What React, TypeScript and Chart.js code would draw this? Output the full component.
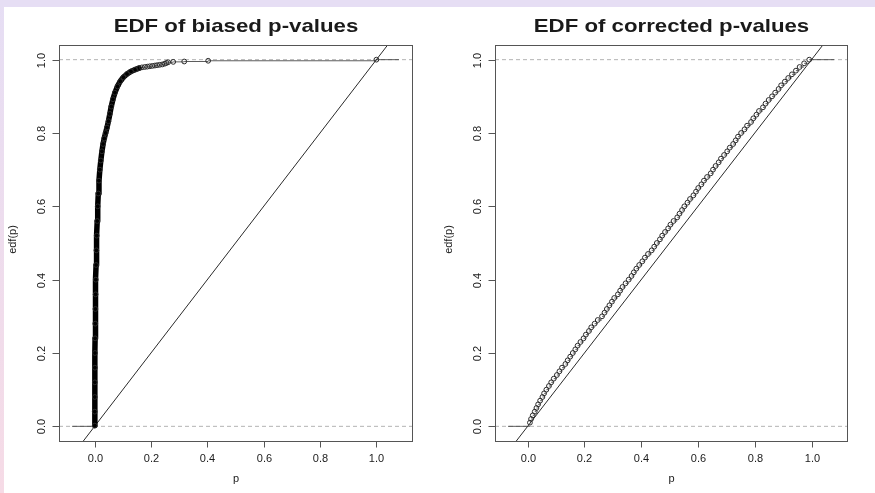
import React, { useEffect, useRef } from "react";
import { Chart, registerables } from "chart.js";

Chart.register(...registerables);

// ---------- data ----------
// Biased p-values: dense part of the EDF (drawn as a solid ribbon of points)
const biasedDenseP = [
  0.0005, 0.0005, 0.0006, 0.0008, 0.001, 0.0013, 0.0017, 0.0022, 0.0028, 0.0035,
  0.0043, 0.0052, 0.0063, 0.0076, 0.0092, 0.011, 0.013, 0.0155, 0.0185, 0.022,
  0.026, 0.03, 0.034, 0.039, 0.044, 0.049, 0.054, 0.059, 0.065, 0.072,
  0.081, 0.091, 0.102, 0.115, 0.129, 0.144, 0.158,
];
const biasedDenseEdf = [
  0.002, 0.04, 0.08, 0.12, 0.16, 0.2, 0.24, 0.28, 0.32, 0.36,
  0.4, 0.44, 0.48, 0.52, 0.56, 0.6, 0.635, 0.67, 0.7, 0.725,
  0.75, 0.77, 0.785, 0.8, 0.815, 0.832, 0.852, 0.872, 0.892, 0.91,
  0.927, 0.941, 0.952, 0.961, 0.968, 0.973, 0.977,
];
// Biased p-values: sparse upper tail
const biasedTailP = [
  0.168, 0.178, 0.187, 0.196, 0.205, 0.214, 0.222, 0.231, 0.24, 0.249,
  0.255, 0.261, 0.279, 0.318, 0.403, 1.0,
];
const biasedTailEdf = [
  0.979, 0.98, 0.981, 0.982, 0.983, 0.984, 0.985, 0.986, 0.987, 0.989,
  0.991, 0.993, 0.994, 0.995, 0.997, 1.0,
];

// Corrected p-values
const correctedP = [
  0.008, 0.012, 0.018, 0.025, 0.031, 0.037, 0.044, 0.052, 0.058, 0.066,
  0.075, 0.083, 0.092, 0.103, 0.112, 0.121, 0.133, 0.141, 0.15, 0.159,
  0.168, 0.176, 0.186, 0.197, 0.205, 0.216, 0.224, 0.236, 0.247, 0.262,
  0.271, 0.279, 0.288, 0.297, 0.305, 0.318, 0.326, 0.334, 0.345, 0.356,
  0.366, 0.374, 0.383, 0.393, 0.404, 0.413, 0.424, 0.437, 0.446, 0.455,
  0.466, 0.474, 0.484, 0.495, 0.503, 0.514, 0.527, 0.535, 0.544, 0.552,
  0.563, 0.572, 0.584, 0.593, 0.601, 0.612, 0.621, 0.632, 0.645, 0.653,
  0.662, 0.673, 0.681, 0.692, 0.703, 0.712, 0.724, 0.733, 0.741, 0.752,
  0.764, 0.773, 0.787, 0.795, 0.806, 0.815, 0.829, 0.838, 0.849, 0.861,
  0.872, 0.884, 0.893, 0.906, 0.918, 0.931, 0.945, 0.958, 0.974, 0.992,
];
const correctedEdf = [
  0.01, 0.02, 0.03, 0.04, 0.05, 0.06, 0.07, 0.08, 0.09, 0.1,
  0.11, 0.12, 0.13, 0.14, 0.15, 0.16, 0.17, 0.18, 0.19, 0.2,
  0.21, 0.22, 0.23, 0.24, 0.25, 0.26, 0.27, 0.28, 0.29, 0.3,
  0.31, 0.32, 0.33, 0.34, 0.35, 0.36, 0.37, 0.38, 0.39, 0.4,
  0.41, 0.42, 0.43, 0.44, 0.45, 0.46, 0.47, 0.48, 0.49, 0.5,
  0.51, 0.52, 0.53, 0.54, 0.55, 0.56, 0.57, 0.58, 0.59, 0.6,
  0.61, 0.62, 0.63, 0.64, 0.65, 0.66, 0.67, 0.68, 0.69, 0.7,
  0.71, 0.72, 0.73, 0.74, 0.75, 0.76, 0.77, 0.78, 0.79, 0.8,
  0.81, 0.82, 0.83, 0.84, 0.85, 0.86, 0.87, 0.88, 0.89, 0.9,
  0.91, 0.92, 0.93, 0.94, 0.95, 0.96, 0.97, 0.98, 0.99, 1.0,
];

const xTickValues = [0, 0.2, 0.4, 0.6, 0.8, 1.0];
const xTickLabels = ["0.0", "0.2", "0.4", "0.6", "0.8", "1.0"];
const yTickValues = [0, 0.2, 0.4, 0.6, 0.8, 1.0];
const yTickLabels = ["0.0", "0.2", "0.4", "0.6", "0.8", "1.0"];
const refLevels = [0, 1];

const biasedTitle = "EDF of biased p-values";
const correctedTitle = "EDF of corrected p-values";
const xTitle = "p";
const yTitle = "edf(p)";

// axis ranges (R usr coordinates) and ecdf step extents (R xlim)
const biasedXRange = [-0.1264, 1.1264];
const correctedXRange = [-0.115, 1.125];
const yRange = [-0.04, 1.04];
const biasedStepLimits = [-0.08, 1.08];
const correctedStepLimits = [-0.0692, 1.0792];

// ---------- styling ----------
const FONT = '"Liberation Sans", Arial, Helvetica, sans-serif';
const TEXT = "#1a1a1a";
const AXIS = "#555555";
const TITLE_STRETCH = 1.17;

type Pt = { x: number; y: number };
const GAP: Pt = { x: NaN, y: NaN };

function stepSegments(px: number[], py: number[], lim: number[]): Pt[] {
  const out: Pt[] = [];
  out.push({ x: lim[0], y: 0 }, { x: px[0], y: 0 }, { ...GAP });
  for (let i = 0; i < px.length - 1; i++) {
    out.push({ x: px[i], y: py[i] }, { x: px[i + 1], y: py[i] }, { ...GAP });
  }
  out.push({ x: px[px.length - 1], y: 1 }, { x: lim[1], y: 1 });
  return out;
}

function makeFramePlugin(title: string) {
  return {
    id: "rframe",
    afterDraw(chart: any) {
      const { ctx, chartArea: a, scales } = chart;
      const x = scales.x;
      const y = scales.y;
      ctx.save();
      ctx.strokeStyle = AXIS;
      ctx.lineWidth = 1;
      const L = Math.round(a.left) + 0.5;
      const T = Math.round(a.top) + 0.5;
      const R = Math.round(a.right) + 0.5;
      const B = Math.round(a.bottom) + 0.5;
      ctx.strokeRect(L, T, R - L, B - T);

      ctx.fillStyle = TEXT;
      ctx.font = `11px ${FONT}`;
      ctx.textAlign = "center";
      ctx.textBaseline = "alphabetic";
      xTickValues.forEach((v, i) => {
        const px = Math.round(x.getPixelForValue(v)) + 0.5;
        ctx.beginPath();
        ctx.moveTo(px, B);
        ctx.lineTo(px, B + 6);
        ctx.stroke();
        ctx.fillText(xTickLabels[i], px, B + 20);
      });
      yTickValues.forEach((v, i) => {
        const py = Math.round(y.getPixelForValue(v)) + 0.5;
        ctx.beginPath();
        ctx.moveTo(L, py);
        ctx.lineTo(L - 7, py);
        ctx.stroke();
        ctx.save();
        ctx.translate(L - 15, py);
        ctx.rotate(-Math.PI / 2);
        ctx.fillText(yTickLabels[i], 0, 0);
        ctx.restore();
      });

      // axis titles
      ctx.font = `11px ${FONT}`;
      ctx.fillText(xTitle, (L + R) / 2, B + 40);
      ctx.save();
      ctx.translate(L - 44, (T + B) / 2 - 4);
      ctx.rotate(-Math.PI / 2);
      ctx.fillText(yTitle, 0, 0);
      ctx.restore();

      // main title
      ctx.save();
      ctx.font = `bold 19px ${FONT}`;
      ctx.translate((L + R) / 2, 32);
      ctx.scale(TITLE_STRETCH, 1);
      ctx.fillText(title, 0, 0);
      ctx.restore();
      ctx.restore();
    },
  };
}

type PanelProps = {
  left: number;
  width: number;
  padLeft: number;
  padRight: number;
  xRange: number[];
  stepLimits: number[];
  pts: { p: number[]; edf: number[] };
  dense?: { p: number[]; edf: number[] };
  title: string;
};

function Panel(props: PanelProps) {
  const ref = useRef<HTMLCanvasElement | null>(null);
  useEffect(() => {
    if (!ref.current) return;
    const { pts, dense, xRange, stepLimits } = props;
    const pointData = pts.p.map((v, i) => ({ x: v, y: pts.edf[i] }));
    const datasets: any[] = [
      {
        label: "points",
        data: pointData,
        showLine: false,
        pointStyle: "circle",
        pointRadius: 2.4,
        pointBorderWidth: 1,
        pointBorderColor: "#2b2b2b",
        pointBackgroundColor: "rgba(0,0,0,0)",
      },
    ];
    if (dense) {
      datasets.push({
        label: "dense",
        data: dense.p.map((v, i) => ({ x: v, y: dense.edf[i] })),
        showLine: true,
        borderColor: "#000000",
        borderWidth: 5.5,
        borderCapStyle: "round",
        borderJoinStyle: "round",
        pointRadius: 0,
        tension: 0,
      });
    }
    datasets.push({
      label: "steps",
      data: stepSegments(pts.p, pts.edf, stepLimits),
      showLine: true,
      spanGaps: false,
      borderColor: "#333333",
      borderWidth: 0.8,
      pointRadius: 0,
    });
    datasets.push({
      label: "diagonal",
      data: [
        { x: xRange[0] - 0.2, y: xRange[0] - 0.2 },
        { x: xRange[1] + 0.2, y: xRange[1] + 0.2 },
      ],
      showLine: true,
      borderColor: "#2a2a2a",
      borderWidth: 1,
      pointRadius: 0,
      clip: 0,
    });
    refLevels.forEach((lv) => {
      datasets.push({
        label: "ref" + lv,
        data: [
          { x: xRange[0], y: lv },
          { x: xRange[1], y: lv },
        ],
        showLine: true,
        borderColor: "#b4b4b4",
        borderWidth: 1,
        borderDash: [4, 3],
        pointRadius: 0,
      });
    });

    const chart = new Chart(ref.current, {
      type: "scatter",
      data: { datasets },
      options: {
        responsive: false,
        animation: false,
        events: [],
        layout: {
          padding: { left: props.padLeft, right: props.padRight, top: 45, bottom: 52 },
        },
        plugins: { legend: { display: false }, tooltip: { enabled: false } },
        scales: {
          x: { type: "linear", min: xRange[0], max: xRange[1], display: false },
          y: { type: "linear", min: yRange[0], max: yRange[1], display: false },
        },
      },
      plugins: [makeFramePlugin(props.title)],
    } as any);
    return () => chart.destroy();
  }, []);
  return (
    <canvas
      ref={ref}
      width={props.width}
      height={493}
      style={{ position: "absolute", left: props.left, top: 0, width: props.width, height: 493 }}
    />
  );
}

export default function App() {
  useEffect(() => {
    document.body.style.margin = "0";
  }, []);
  const allBiased = {
    p: [...biasedDenseP, ...biasedTailP],
    edf: [...biasedDenseEdf, ...biasedTailEdf],
  };
  return (
    <div
      style={{
        position: "fixed",
        left: 0,
        top: 0,
        width: 875,
        height: 493,
        background: "#ffffff",
        overflow: "hidden",
      }}
    >
      <div
        style={{
          position: "absolute",
          left: 0,
          top: 0,
          width: 875,
          height: 7,
          background: "#e6def4",
        }}
      />
      <div
        style={{
          position: "absolute",
          left: 0,
          top: 0,
          width: 4,
          height: 493,
          background: "linear-gradient(#e6def4, #f6dbe6)",
        }}
      />
      <Panel
        left={0}
        width={437}
        padLeft={59}
        padRight={25}
        xRange={biasedXRange}
        stepLimits={biasedStepLimits}
        pts={allBiased}
        dense={{ p: biasedDenseP, edf: biasedDenseEdf }}
        title={biasedTitle}
      />
      <Panel
        left={437}
        width={438}
        padLeft={58}
        padRight={28}
        xRange={correctedXRange}
        stepLimits={correctedStepLimits}
        pts={{ p: correctedP, edf: correctedEdf }}
        title={correctedTitle}
      />
    </div>
  );
}
